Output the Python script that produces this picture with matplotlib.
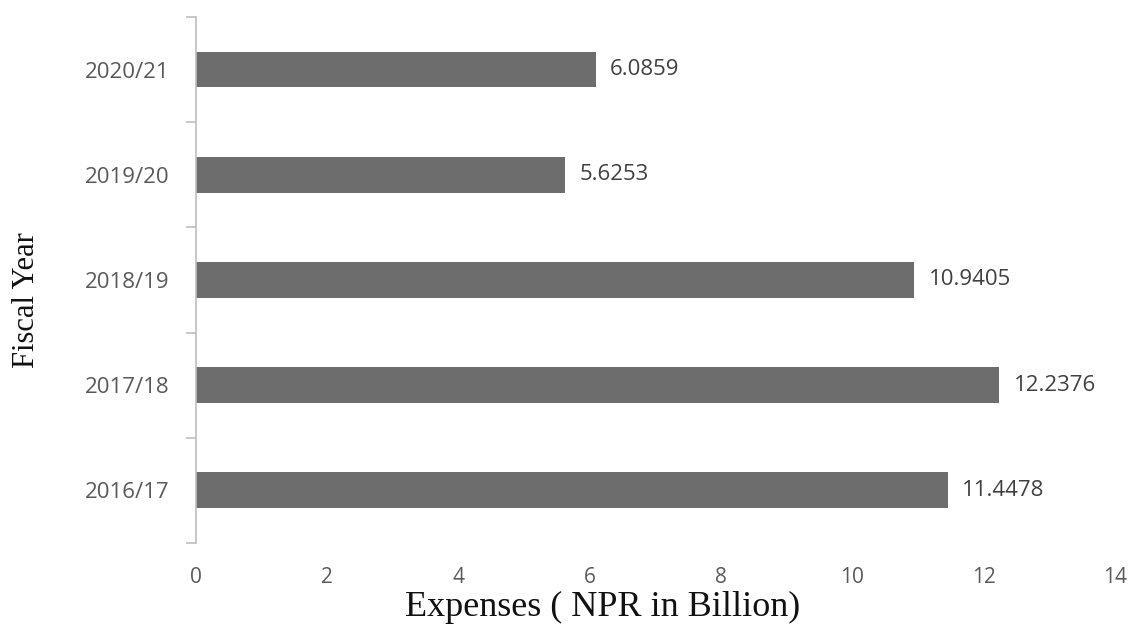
import matplotlib
matplotlib.use("Agg")
import matplotlib.pyplot as plt
from matplotlib.ticker import FixedLocator

years = ["2016/17", "2017/18", "2018/19", "2019/20", "2020/21"]
expenses = [11.4478, 12.2376, 10.9405, 5.6253, 6.0859]
x_ticks = [0, 2, 4, 6, 8, 10, 12, 14]

fig = plt.figure(figsize=(11.37, 6.28), dpi=100)
ax = fig.add_axes([0.1724, 0.1354, 0.8083, 0.8375])

pos = list(range(len(years)))
ax.barh(pos, expenses, height=0.34, color="#6d6d6d")
for p, v in zip(pos, expenses):
    ax.text(v + 0.22, p, f"{v:.4f}", va="center", ha="left",
            fontsize=16, color="#404040", family="Open Sans")

ax.set_xlim(0, 14)
ax.set_ylim(-0.5, len(years) - 0.5)
ax.set_yticks(pos)
ax.set_yticklabels(years, family="Open Sans", fontsize=16, color="#595959")
ax.yaxis.set_minor_locator(FixedLocator([i - 0.5 for i in range(len(years) + 1)]))
ax.tick_params(axis="y", which="major", length=0, pad=19)
ax.tick_params(axis="y", which="minor", length=7, color="#bfbfbf", width=1.2)
ax.set_xticks(x_ticks)
ax.set_xticklabels([str(t) for t in x_ticks], family="Open Sans", fontsize=15, color="#595959")
ax.tick_params(axis="x", length=0, pad=17)

for s in ["top", "right", "bottom"]:
    ax.spines[s].set_visible(False)
ax.spines["left"].set_color("#bfbfbf")
ax.spines["left"].set_linewidth(1.2)

ax.set_xlabel("Expenses ( NPR in Billion)", family="Liberation Serif", fontsize=26,
              color="#111111")
ax.xaxis.set_label_coords(0.442, -0.092)
ax.set_ylabel("Fiscal Year", family="Liberation Serif", fontsize=22,
              color="#111111")
ax.yaxis.set_label_coords(-0.169, 0.462)

fig.savefig("out.png", dpi=100, facecolor="white")
